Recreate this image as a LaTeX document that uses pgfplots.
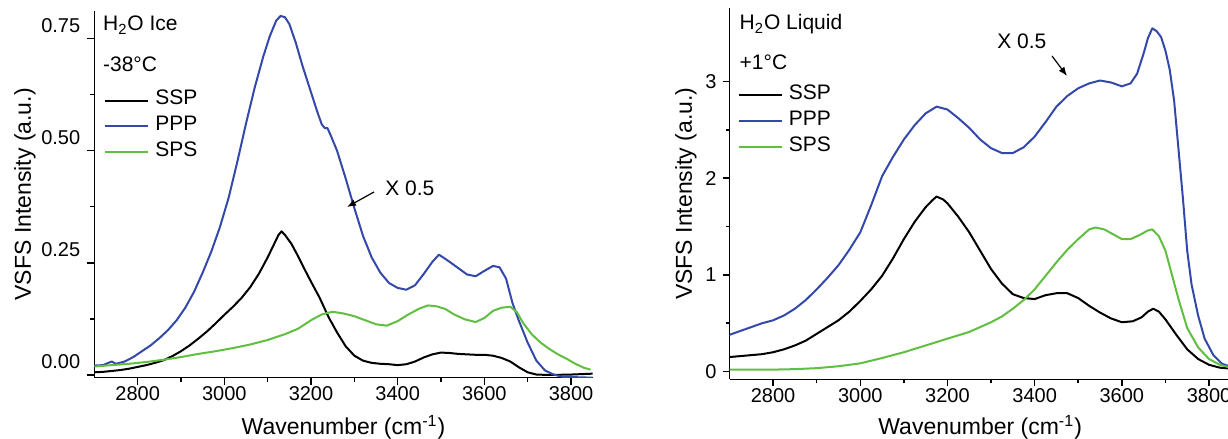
\documentclass[border=0pt]{standalone}
\usepackage{fontspec}
\setmainfont{Liberation Sans}
\usepackage{pgfplots}
\pgfplotsset{compat=1.18}
\usetikzlibrary{arrows.meta}
\definecolor{sspc}{RGB}{0,0,0}
\definecolor{pppc}{RGB}{52,72,170}
\definecolor{spsc}{RGB}{96,190,64}

\pgfplotsset{
  vsfs/.style={
    scale only axis,
    axis x line=bottom, axis y line=left,
    axis line style={line width=0.75pt, -},
    tick align=outside,
    major tick length=3.5pt, minor tick length=2pt,
    every tick/.style={line width=0.75pt, black},
    xmin=2700, xmax=3850,
    xtick={2800,3000,3200,3400,3600,3800},
    minor x tick num=1, minor y tick num=1,
    tick label style={font=\fontsize{10}{12}\selectfont},
    /pgf/number format/assume math mode=true,
    xticklabel style={/pgf/number format/1000 sep={}},
    xticklabel shift=-2.5pt,
    label style={font=\fontsize{11.5}{13}\selectfont},
    xlabel={Wavenumber (cm\textsuperscript{-1})},
    ylabel={VSFS Intensity (a.u.)},
    every axis plot/.append style={line width=1pt, line join=round},
    legend cell align=left,
    legend style={draw=none, fill=none, anchor=north west,
      font=\fontsize{10.5}{12}\selectfont,
      nodes={inner sep=0pt, text height=8pt, text depth=3.85pt},
      row sep=1.1pt, column sep=3pt},
    legend image code/.code={\draw[##1] (0pt,0pt) -- (21.5pt,0pt);},
  }
}

\begin{document}
\begin{tikzpicture}
\useasboundingbox (0,0) rectangle (614pt,219.5pt);

% left: ice
\begin{axis}[vsfs,
  at={(47.15pt,30.65pt)}, anchor=south west,
  width=249.2pt, height=183.35pt,
  ymin=-0.006, ymax=0.811,
  ytick={0,0.25,0.5,0.75},
  yticklabel style={/pgf/number format/fixed, /pgf/number format/fixed zerofill,
    /pgf/number format/precision=2, yshift=6.5pt},
  yticklabel shift=0pt,
  xlabel style={at={(axis description cs:0.5,0)}, anchor=base, yshift=-28.6pt},
  ylabel style={at={(axis description cs:-0.139,0.5)}, anchor=center},
  legend style={at={(axis description cs:0.0075,0.80)}},
]
\addplot[sspc] coordinates {(2700,0.006)(2720,0.007)(2740,0.009)(2760,0.011)(2780,0.014)(2800,0.018)(2820,0.022)(2840,0.027)(2860,0.033)(2880,0.042)(2900,0.053)(2920,0.066)(2940,0.081)(2960,0.097)(2980,0.115)(3000,0.134)(3020,0.152)(3040,0.172)(3060,0.196)(3080,0.226)(3100,0.262)(3115,0.292)(3125,0.312)(3132,0.320)(3140,0.312)(3155,0.292)(3170,0.265)(3185,0.236)(3200,0.208)(3220,0.172)(3240,0.130)(3260,0.095)(3280,0.064)(3300,0.043)(3320,0.032)(3340,0.027)(3360,0.025)(3380,0.024)(3400,0.022)(3420,0.024)(3440,0.030)(3460,0.039)(3480,0.046)(3500,0.050)(3520,0.049)(3540,0.047)(3560,0.046)(3580,0.045)(3600,0.045)(3620,0.043)(3640,0.038)(3660,0.030)(3680,0.017)(3700,0.006)(3720,0.001)(3750,0.000)(3800,0.001)(3850,0.003)};
\addlegendentry{SSP}
\addplot[pppc] coordinates {(2700,0.021)(2720,0.022)(2740,0.030)(2750,0.025)(2770,0.030)(2790,0.040)(2810,0.053)(2830,0.066)(2850,0.082)(2870,0.100)(2890,0.122)(2910,0.150)(2930,0.185)(2950,0.228)(2970,0.275)(2990,0.330)(3010,0.395)(3030,0.475)(3050,0.560)(3070,0.640)(3090,0.710)(3105,0.755)(3120,0.790)(3130,0.800)(3140,0.797)(3150,0.782)(3165,0.740)(3180,0.690)(3200,0.630)(3215,0.585)(3225,0.558)(3232,0.550)(3238,0.550)(3245,0.535)(3260,0.500)(3280,0.438)(3300,0.372)(3320,0.310)(3340,0.262)(3360,0.228)(3380,0.205)(3400,0.194)(3420,0.190)(3440,0.200)(3460,0.225)(3480,0.252)(3495,0.268)(3505,0.262)(3520,0.252)(3540,0.238)(3560,0.224)(3580,0.220)(3600,0.232)(3620,0.243)(3635,0.240)(3650,0.215)(3665,0.160)(3680,0.120)(3700,0.072)(3720,0.032)(3740,0.010)(3760,0.001)(3780,-0.004)(3850,-0.006)};
\addlegendentry{PPP}
\addplot[spsc] coordinates {(2700,0.019)(2740,0.022)(2780,0.025)(2820,0.029)(2860,0.034)(2900,0.040)(2940,0.047)(2980,0.053)(3020,0.060)(3060,0.068)(3100,0.078)(3140,0.091)(3170,0.103)(3200,0.122)(3225,0.135)(3250,0.141)(3275,0.137)(3300,0.131)(3325,0.122)(3350,0.113)(3375,0.110)(3400,0.120)(3425,0.135)(3450,0.148)(3470,0.155)(3490,0.153)(3510,0.147)(3530,0.135)(3555,0.124)(3580,0.118)(3600,0.127)(3620,0.143)(3640,0.150)(3660,0.152)(3675,0.140)(3690,0.115)(3710,0.090)(3730,0.072)(3750,0.058)(3770,0.046)(3790,0.036)(3810,0.025)(3830,0.016)(3845,0.012)};
\addlegendentry{SPS}
\end{axis}

% right: liquid
\begin{axis}[vsfs,
  at={(364.75pt,29.85pt)}, anchor=south west,
  width=250.65pt, height=185.65pt,
  ymin=-0.08, ymax=3.76,
  ytick={0,1,2,3},
  yticklabel shift=-0.5pt,
  xlabel style={at={(axis description cs:0.5,0)}, anchor=base, yshift=-27.8pt},
  ylabel style={at={(axis description cs:-0.087,0.5)}, anchor=center},
  legend style={at={(axis description cs:0.004,0.809)}},
]
\addplot[sspc] coordinates {(2700,0.15)(2725,0.16)(2750,0.17)(2775,0.18)(2800,0.20)(2825,0.23)(2850,0.27)(2875,0.32)(2900,0.39)(2925,0.46)(2950,0.53)(2975,0.62)(3000,0.73)(3025,0.85)(3050,0.99)(3075,1.17)(3100,1.37)(3125,1.55)(3150,1.70)(3165,1.77)(3175,1.81)(3190,1.78)(3200,1.74)(3225,1.60)(3250,1.44)(3275,1.25)(3300,1.06)(3325,0.91)(3350,0.80)(3375,0.76)(3400,0.75)(3425,0.79)(3450,0.81)(3475,0.81)(3500,0.76)(3525,0.68)(3550,0.61)(3575,0.55)(3600,0.51)(3625,0.52)(3645,0.56)(3660,0.62)(3672,0.65)(3685,0.62)(3700,0.54)(3725,0.38)(3750,0.23)(3775,0.13)(3800,0.07)(3825,0.04)(3850,0.03)};
\addlegendentry{SSP}
\addplot[pppc] coordinates {(2700,0.38)(2725,0.42)(2750,0.46)(2775,0.50)(2800,0.53)(2825,0.58)(2850,0.65)(2875,0.74)(2900,0.85)(2925,0.97)(2950,1.10)(2975,1.26)(3000,1.44)(3025,1.72)(3050,2.02)(3075,2.22)(3100,2.40)(3125,2.55)(3150,2.67)(3175,2.74)(3200,2.71)(3225,2.62)(3250,2.52)(3275,2.40)(3300,2.31)(3325,2.26)(3350,2.26)(3375,2.32)(3400,2.43)(3425,2.58)(3450,2.74)(3475,2.85)(3500,2.93)(3525,2.98)(3550,3.01)(3575,2.99)(3600,2.95)(3620,2.98)(3635,3.08)(3650,3.29)(3660,3.45)(3670,3.55)(3680,3.52)(3690,3.46)(3700,3.32)(3710,3.12)(3720,2.80)(3730,2.30)(3740,1.80)(3750,1.25)(3760,0.90)(3775,0.58)(3790,0.34)(3810,0.17)(3830,0.08)(3850,0.05)};
\addlegendentry{PPP}
\addplot[spsc] coordinates {(2700,0.02)(2750,0.02)(2800,0.02)(2850,0.025)(2900,0.035)(2950,0.055)(3000,0.085)(3050,0.14)(3100,0.20)(3150,0.27)(3200,0.34)(3250,0.41)(3300,0.51)(3325,0.57)(3350,0.65)(3375,0.74)(3400,0.85)(3425,0.99)(3450,1.13)(3475,1.26)(3500,1.37)(3525,1.47)(3540,1.49)(3560,1.47)(3580,1.42)(3600,1.37)(3620,1.37)(3640,1.41)(3660,1.46)(3670,1.47)(3685,1.40)(3700,1.25)(3715,1.00)(3730,0.75)(3750,0.45)(3775,0.25)(3800,0.13)(3825,0.07)(3850,0.04)};
\addlegendentry{SPS}
\end{axis}

% annotations, in pixel units of the reference (origin top left)
\begin{scope}[x=0.5pt, y=-0.5pt, yshift=219.5pt, font=\fontsize{10.5}{12}\selectfont]
  \node[anchor=base west, inner sep=0pt] at (102.7,31) {H\textsubscript{2}O Ice};
  \node[anchor=base west, inner sep=0pt] at (102.7,72) {-38\textdegree C};
  \node[anchor=base west, inner sep=0pt] at (385,196) {X 0.5};
  \draw[-{Latex[length=4.5pt,width=3.5pt]}, line width=0.6pt] (374,192) -- (347,207);
  \node[anchor=base west, inner sep=0pt] at (739.3,30) {H\textsubscript{2}O Liquid};
  \node[anchor=base west, inner sep=0pt] at (739.3,70) {+1\textdegree C};
  \node[anchor=base west, inner sep=0pt] at (997,49) {X 0.5};
  \draw[-{Latex[length=4.5pt,width=3.5pt]}, line width=0.6pt] (1052,56) -- (1067,76);
\end{scope}
\end{tikzpicture}
\end{document}
